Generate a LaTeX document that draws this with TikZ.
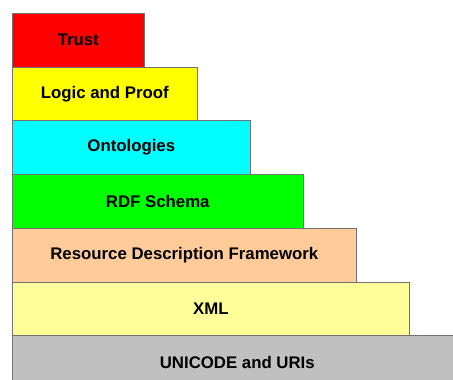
\documentclass[tikz,border=0pt]{standalone}
\usepackage{fontspec}
\setmainfont{Liberation Sans}
\usepackage{tikz}

\definecolor{trustred}{HTML}{FF0000}
\definecolor{logicyellow}{HTML}{FFFF00}
\definecolor{ontocyan}{HTML}{00FFFF}
\definecolor{schemagreen}{HTML}{00FF00}
\definecolor{peach}{HTML}{FFCC99}
\definecolor{paleyellow}{HTML}{FFFF99}
\definecolor{unigray}{HTML}{C0C0C0}

\begin{document}
\begin{tikzpicture}[x=1pt,y=-1pt,
  layer/.style={draw=black!55,line width=0.6pt,anchor=north west,
    minimum height=53.7pt,inner sep=0pt,
    font=\fontsize{16.8}{20}\selectfont\bfseries}]
\clip (0,0) rectangle (453,380);
\node[layer,fill=trustred,minimum width=132pt] (trust) at (12,13) {Trust};
\node[layer,fill=logicyellow,minimum width=185pt] (logic) at (12,66.7) {Logic and Proof};
\node[layer,fill=ontocyan,minimum width=238pt] (onto) at (12,120.4) {Ontologies};
\node[layer,fill=schemagreen,minimum width=291pt] (rdfs) at (12,174.1) {RDF Schema};
\node[layer,fill=peach,minimum width=344pt] (rdf) at (12,227.8) {Resource Description Framework};
\node[layer,fill=paleyellow,minimum width=397pt] (xml) at (12,281.5) {XML};
\node[layer,fill=unigray,minimum width=450pt] (uni) at (12,335.2) {UNICODE and URIs};
\end{tikzpicture}
\end{document}
